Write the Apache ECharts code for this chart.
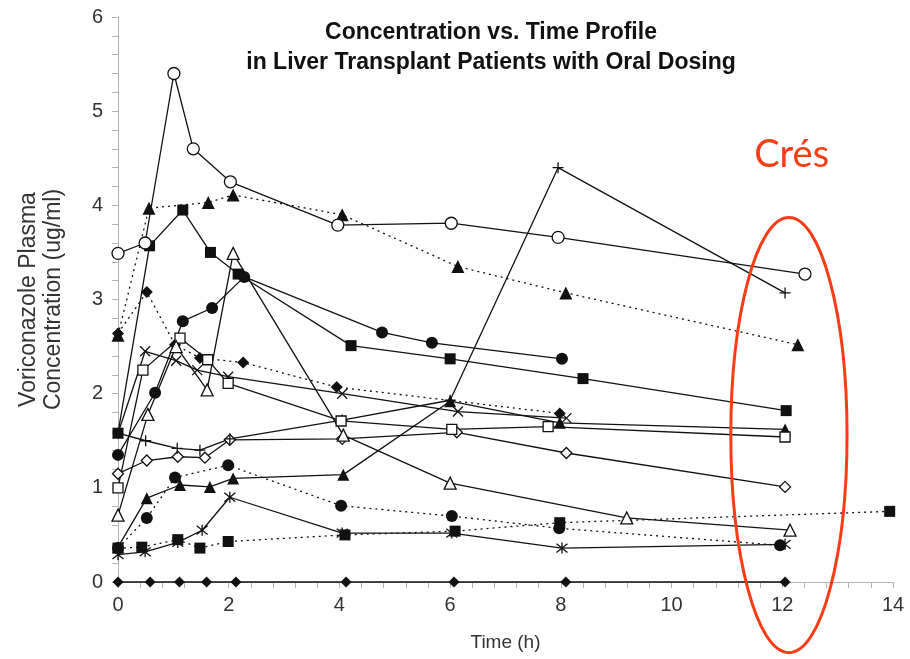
<!DOCTYPE html>
<html>
<head>
<meta charset="utf-8">
<script src="https://cdn.jsdelivr.net/npm/echarts@6/dist/echarts.min.js"></script>
<style>
  html, body { margin: 0; padding: 0; background: #fff; }
  #chart { width: 910px; height: 659px; }
</style>
</head>
<body>
<div id="chart"></div>
<script>
// Voriconazole plasma concentration (ug/ml) vs time (h), one profile per patient.
const xTicks = [0, 2, 4, 6, 8, 10, 12, 14];
const yTicks = [0, 1, 2, 3, 4, 5, 6];

const tOpenCircle = [0, 0.49, 1.01, 1.36, 2.03, 3.97, 6.02, 7.95, 12.41];
const cOpenCircle = [3.49, 3.60, 5.40, 4.60, 4.25, 3.79, 3.81, 3.66, 3.27];

const tTriDotted = [0, 0.56, 1.63, 2.08, 4.05, 6.14, 8.09, 12.28];
const cTriDotted = [2.62, 3.97, 4.03, 4.11, 3.90, 3.35, 3.07, 2.52];

const tSquareHigh = [0, 0.57, 1.17, 1.67, 2.17, 4.21, 6.0, 8.40, 12.07];
const cSquareHigh = [1.58, 3.57, 3.95, 3.50, 3.27, 2.51, 2.37, 2.16, 1.82];

const tDotHigh = [0, 0.67, 1.17, 1.70, 2.28, 4.77, 5.67, 8.02];
const cDotHigh = [1.35, 2.01, 2.77, 2.91, 3.24, 2.65, 2.54, 2.37];

const tOpenTri = [0, 0.54, 1.05, 1.61, 2.08, 4.07, 6.0, 9.19, 12.14];
const cOpenTri = [0.71, 1.78, 2.50, 2.04, 3.49, 1.56, 1.05, 0.68, 0.55];

const tOpenSquare = [0, 0.45, 1.12, 1.62, 1.99, 4.03, 6.03, 7.77, 12.05];
const cOpenSquare = [1.0, 2.25, 2.59, 2.36, 2.11, 1.71, 1.62, 1.65, 1.54];

const tCross = [0, 0.49, 1.05, 1.43, 1.99, 4.05, 6.14, 8.10];
const cCross = [1.58, 2.45, 2.35, 2.25, 2.18, 2.00, 1.81, 1.74];

const tPlus = [0, 0.50, 1.07, 1.48, 2.02, 4.05, 6.0, 7.95, 12.05];
const cPlus = [1.58, 1.50, 1.42, 1.40, 1.52, 1.72, 1.93, 4.40, 3.07];

const tDiamondDotted = [0, 0.52, 1.03, 1.48, 2.26, 3.95, 7.98];
const cDiamondDotted = [2.64, 3.08, 2.52, 2.38, 2.33, 2.07, 1.79];

const tOpenDiamond = [0, 0.52, 1.08, 1.57, 2.02, 4.05, 6.12, 8.10, 12.05];
const cOpenDiamond = [1.15, 1.29, 1.33, 1.32, 1.51, 1.52, 1.59, 1.37, 1.01];

const tSquareLow = [0, 0.43, 1.08, 1.48, 1.99, 4.10, 6.09, 7.98, 13.94];
const cSquareLow = [0.36, 0.37, 0.45, 0.36, 0.43, 0.50, 0.54, 0.63, 0.75];

const tDotLow = [0, 0.52, 1.03, 1.99, 4.03, 6.03, 7.97, 11.96];
const cDotLow = [0.36, 0.68, 1.11, 1.24, 0.81, 0.70, 0.57, 0.39];

const tTriLow = [0, 0.52, 1.12, 1.66, 2.08, 4.07, 6.0, 7.98, 12.05];
const cTriLow = [0.37, 0.89, 1.03, 1.01, 1.10, 1.14, 1.92, 1.69, 1.62];

const tAsterisk = [0, 0.49, 1.08, 1.52, 2.02, 4.05, 6.03, 8.02, 12.05];
const cAsterisk = [0.29, 0.32, 0.42, 0.55, 0.90, 0.52, 0.52, 0.36, 0.40];

const tZero = [0, 0.58, 1.11, 1.60, 2.13, 4.12, 6.07, 8.09, 12.05];
const cZero = [0, 0, 0, 0, 0, 0, 0, 0, 0];

const zip = (t, c) => t.map((x, i) => [x, c[i]]);

const SYM_PLUS = 'path://M0,5L10,5M5,0L5,10';
const SYM_CROSS = 'path://M0,0L10,10M10,0L0,10';
const SYM_STAR = 'path://M1,1L9,9M9,1L1,9M5,0L5,10';

function profile(t, c, symbol, opts) {
  const o = opts || {};
  const open = !!o.open;
  const stroke = !!o.stroke;
  return {
    type: 'line',
    data: zip(t, c),
    symbol: symbol,
    symbolSize: o.size || 11,
    showAllSymbol: true,
    clip: false,
    silent: true,
    lineStyle: {
      color: '#111',
      width: 1.3,
      type: o.dotted ? [2, 4] : 'solid'
    },
    itemStyle: {
      color: open ? '#fff' : (stroke ? 'rgba(0,0,0,0)' : '#111'),
      borderColor: '#111',
      borderWidth: (open || stroke) ? 1.3 : 0
    },
    emphasis: { disabled: true }
  };
}

const font = 'Liberation Sans, Arial, Helvetica, sans-serif';
const axisGray = '#b4b4b4';

const chart = echarts.init(document.getElementById('chart'), null, { renderer: 'canvas' });

chart.setOption({
  animation: false,
  backgroundColor: '#fff',
  title: {
    text: 'Concentration vs. Time Profile\nin Liver Transplant Patients with Oral Dosing',
    left: 486,
    top: 13,
    textAlign: 'center',
    textStyle: {
      fontFamily: font,
      fontWeight: 'bold',
      fontSize: 23,
      lineHeight: 30,
      color: '#111'
    }
  },
  grid: { left: 118, right: 17, top: 17, bottom: 77 },
  xAxis: {
    type: 'value',
    min: xTicks[0],
    max: xTicks[xTicks.length - 1],
    interval: 2,
    name: 'Time (h)',
    nameLocation: 'middle',
    nameGap: 51,
    nameTextStyle: { fontFamily: font, fontSize: 19, color: '#333' },
    axisLine: { lineStyle: { color: axisGray, width: 1 } },
    axisTick: { length: 6, lineStyle: { color: axisGray } },
    minorTick: { show: true, splitNumber: 5, length: 6, lineStyle: { color: axisGray } },
    splitLine: { show: false },
    axisLabel: { fontFamily: font, fontSize: 20, color: '#333', margin: 13 }
  },
  yAxis: {
    type: 'value',
    min: yTicks[0],
    max: yTicks[yTicks.length - 1],
    interval: 1,
    name: 'Voriconazole Plasma\nConcentration (ug/ml)',
    nameLocation: 'middle',
    nameRotate: 90,
    nameGap: 52,
    nameTextStyle: { fontFamily: font, fontSize: 23, color: '#333', lineHeight: 25 },
    axisLine: { lineStyle: { color: axisGray, width: 1 } },
    axisTick: { length: 6, lineStyle: { color: axisGray } },
    minorTick: { show: true, splitNumber: 5, length: 6, lineStyle: { color: axisGray } },
    splitLine: { show: false },
    axisLabel: { fontFamily: font, fontSize: 20, color: '#333', margin: 15 }
  },
  series: [
    profile(tZero, cZero, 'diamond', { size: 11 }),
    profile(tAsterisk, cAsterisk, SYM_STAR, { stroke: true, size: 11 }),
    profile(tTriLow, cTriLow, 'triangle', { size: 12 }),
    profile(tDotLow, cDotLow, 'circle', { dotted: true, size: 12 }),
    profile(tSquareLow, cSquareLow, 'rect', { dotted: true, size: 11 }),
    profile(tOpenDiamond, cOpenDiamond, 'diamond', { open: true, size: 11 }),
    profile(tDiamondDotted, cDiamondDotted, 'diamond', { dotted: true, size: 12 }),
    profile(tPlus, cPlus, SYM_PLUS, { stroke: true, size: 11 }),
    profile(tCross, cCross, SYM_CROSS, { stroke: true, size: 10 }),
    profile(tOpenSquare, cOpenSquare, 'rect', { open: true, size: 10 }),
    profile(tOpenTri, cOpenTri, 'triangle', { open: true, size: 12 }),
    profile(tDotHigh, cDotHigh, 'circle', { size: 12 }),
    profile(tSquareHigh, cSquareHigh, 'rect', { size: 11 }),
    profile(tTriDotted, cTriDotted, 'triangle', { dotted: true, size: 13 }),
    profile(tOpenCircle, cOpenCircle, 'circle', { open: true, size: 12 })
  ]
});

// Red call-out around the 12 h samples
const red = '#f83c16';
const c = chart.convertToPixel({ gridIndex: 0 }, [12.12, 1.56]);
const edge = chart.convertToPixel({ gridIndex: 0 }, [13.17, 3.87]);
const lbl = chart.convertToPixel({ gridIndex: 0 }, [12.17, 4.54]);
chart.setOption({
  graphic: [
    {
      type: 'ellipse',
      shape: { cx: c[0], cy: c[1], rx: edge[0] - c[0], ry: c[1] - edge[1] },
      style: { fill: 'none', stroke: red, lineWidth: 3 },
      silent: true,
      z: 100
    },
    {
      type: 'text',
      x: lbl[0],
      y: lbl[1],
      style: {
        text: 'Crés',
        fill: red,
        font: '38px Lato, "Open Sans", sans-serif',
        textAlign: 'center',
        textVerticalAlign: 'middle'
      },
      silent: true,
      z: 100
    }
  ]
});
</script>
</body>
</html>
